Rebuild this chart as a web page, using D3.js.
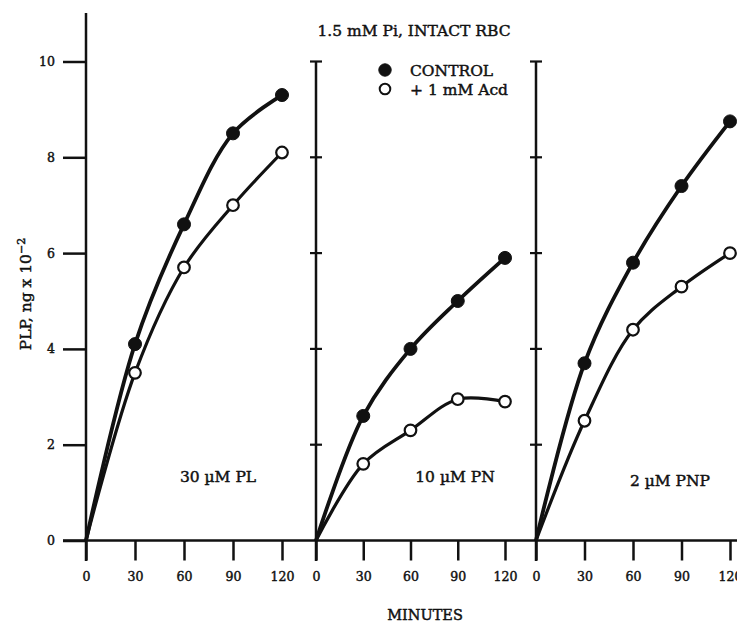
<!DOCTYPE html>
<html>
<head>
<meta charset="utf-8">
<script src="https://cdn.jsdelivr.net/npm/d3@7"></script>
<style>
	body { margin: 0; background: #fff; }
	#container { width: 737px; height: 622px; }
	svg { display: block; }
	text { font-family: "DejaVu Serif", "Liberation Serif", serif; fill: #111; stroke: #111; stroke-width: 0.45px; }
</style>
</head>
<body>
<div id="container"></div>
<script>
////////// DATA

var minutes = [30, 60, 90, 120]; // sample times, min
var xTickValues = [0, 30, 60, 90, 120];
var yTickValues = [0, 2, 4, 6, 8, 10];
var yTickLabels = ["0", "2", "4", "6", "8", "10"];
var panelNames = ["30 \u00b5M PL", "10 \u00b5M PN", "2 \u00b5M PNP"];

// PLP, ng x 10^-2
var controlPL = [4.1, 6.6, 8.5, 9.3];
var acdPL = [3.5, 5.7, 7.0, 8.1];
var controlPN = [2.6, 4.0, 5.0, 5.9];
var acdPN = [1.6, 2.3, 2.95, 2.9];
var controlPNP = [3.7, 5.8, 7.4, 8.75];
var acdPNP = [2.5, 4.4, 5.3, 6.0];

var legendNames = ["CONTROL", "+ 1 mM Acd"];
var titleText = "1.5 mM Pi, INTACT RBC";

////////// LAYOUT

var gWidth = 737;
var gHeight = 622;
var yBase = 540.5; // y pixel of value 0
var yTop = 61.5;   // y pixel of value 10
// pixel span of 0..120 min in each panel
var panelRanges = [[86, 282], [316, 505], [536, 730]];
var labelSize = "15.5px";
var tickSize = "12.5px";

function lineStyle(d, w)
{
	d.style("stroke", "#111")
	.style("stroke-width", (w || 2.5) + "px")
	.style("fill", "none");
}

function draw()
{
	var svg = d3.select("#container").append("svg")
		.attr("width", gWidth)
		.attr("height", gHeight);

	var y = d3.scaleLinear().domain([0, 10]).range([yBase, yTop]);

	// X axis baseline
	svg.append("line")
		.attr("x1", 63).attr("x2", gWidth)
		.attr("y1", yBase).attr("y2", yBase)
		.call(lineStyle, 2.3);

	// Left Y axis with labelled ticks
	svg.append("line")
		.attr("x1", 86).attr("x2", 86)
		.attr("y1", 13).attr("y2", 561)
		.call(lineStyle, 2.5);

	var yAxis = d3.axisLeft(y)
		.tickValues(yTickValues)
		.tickFormat(function(d, i) { return yTickLabels[i]; })
		.tickSize(23)
		.tickPadding(8);
	var gy = svg.append("g").attr("transform", "translate(86,0)").call(yAxis);
	gy.select(".domain").remove();
	gy.selectAll(".tick line").call(lineStyle, 2.5);
	gy.selectAll(".tick text").style("font-size", tickSize).style("font-family", null);

	// Y axis title
	var yt = svg.append("text")
		.attr("transform", "translate(31,294) rotate(-90)")
		.style("font-size", labelSize)
		.style("text-anchor", "middle");
	yt.append("tspan").text("PLP, ng x 10");
	yt.append("tspan").attr("dy", -6).style("font-size", "11px").text("\u22122");

	var series = [
		[controlPL, acdPL],
		[controlPN, acdPN],
		[controlPNP, acdPNP]
	];

	for (var p = 0; p < 3; p++)
	{
		var x = d3.scaleLinear().domain([0, 120]).range(panelRanges[p]);

		// inner Y axes (panels 2 and 3) with cross ticks
		if (p > 0)
		{
			var ax = x(0);
			svg.append("line")
				.attr("x1", ax).attr("x2", ax)
				.attr("y1", y(10)).attr("y2", 561)
				.call(lineStyle, 2.5);
			svg.selectAll(".crossTick" + p).data(yTickValues.slice(1)).enter().append("line")
				.attr("class", "crossTick" + p)
				.attr("x1", ax - 6).attr("x2", ax + 6)
				.attr("y1", function(d) { return y(d); })
				.attr("y2", function(d) { return y(d); })
				.call(lineStyle, 2.2);
		}

		// X axis ticks + labels
		var xAxis = d3.axisBottom(x).tickValues(xTickValues).tickSize(20).tickPadding(12);
		var gx = svg.append("g").attr("transform", "translate(0," + yBase + ")").call(xAxis);
		gx.select(".domain").remove();
		gx.selectAll(".tick line").call(lineStyle, 2.5);
		gx.selectAll(".tick text").style("font-size", tickSize).style("font-family", null);

		// curves: control (filled) and + Acd (open)
		for (var s = 0; s < 2; s++)
		{
			var vals = series[p][s];
			var pts = [[0, 0]].concat(minutes.map(function(m, i) { return [m, vals[i]]; }));
			var line = d3.line()
				.x(function(d) { return x(d[0]); })
				.y(function(d) { return y(d[1]); })
				.curve(d3.curveCatmullRom.alpha(0.5));
			svg.append("path")
				.attr("d", line(pts))
				.call(lineStyle, s == 0 ? 3.8 : 3.2);

			svg.selectAll(".pt" + p + "_" + s).data(pts.slice(1)).enter().append("circle")
				.attr("class", "pt" + p + "_" + s)
				.attr("cx", function(d) { return x(d[0]); })
				.attr("cy", function(d) { return y(d[1]); })
				.attr("r", s == 0 ? 6.5 : 5.8)
				.style("fill", s == 0 ? "#111" : "#fff")
				.style("stroke", "#111")
				.style("stroke-width", s == 0 ? "1px" : "2.2px");
		}
	}

	// panel labels
	var panelLabelPos = [[218, 482], [455, 482], [670, 486]];
	for (var i = 0; i < 3; i++)
	{
		svg.append("text")
			.attr("x", panelLabelPos[i][0]).attr("y", panelLabelPos[i][1])
			.style("font-size", labelSize)
			.style("text-anchor", "middle")
			.text(panelNames[i]);
	}

	// title
	svg.append("text")
		.attr("x", 414).attr("y", 36)
		.style("font-size", labelSize)
		.style("text-anchor", "middle")
		.text(titleText);

	// legend
	for (var i = 0; i < 2; i++)
	{
		svg.append("circle")
			.attr("cx", 385).attr("cy", 70 + i * 19)
			.attr("r", i == 0 ? 6.2 : 5.3)
			.style("fill", i == 0 ? "#111" : "#fff")
			.style("stroke", "#111")
			.style("stroke-width", i == 0 ? "1px" : "2px");
		svg.append("text")
			.attr("x", 410).attr("y", 75.5 + i * 19)
			.style("font-size", labelSize)
			.text(legendNames[i]);
	}

	// X axis title
	svg.append("text")
		.attr("x", 425).attr("y", 620)
		.style("font-size", "14.5px")
		.style("text-anchor", "middle")
		.text("MINUTES");
}

draw();
</script>
</body>
</html>
